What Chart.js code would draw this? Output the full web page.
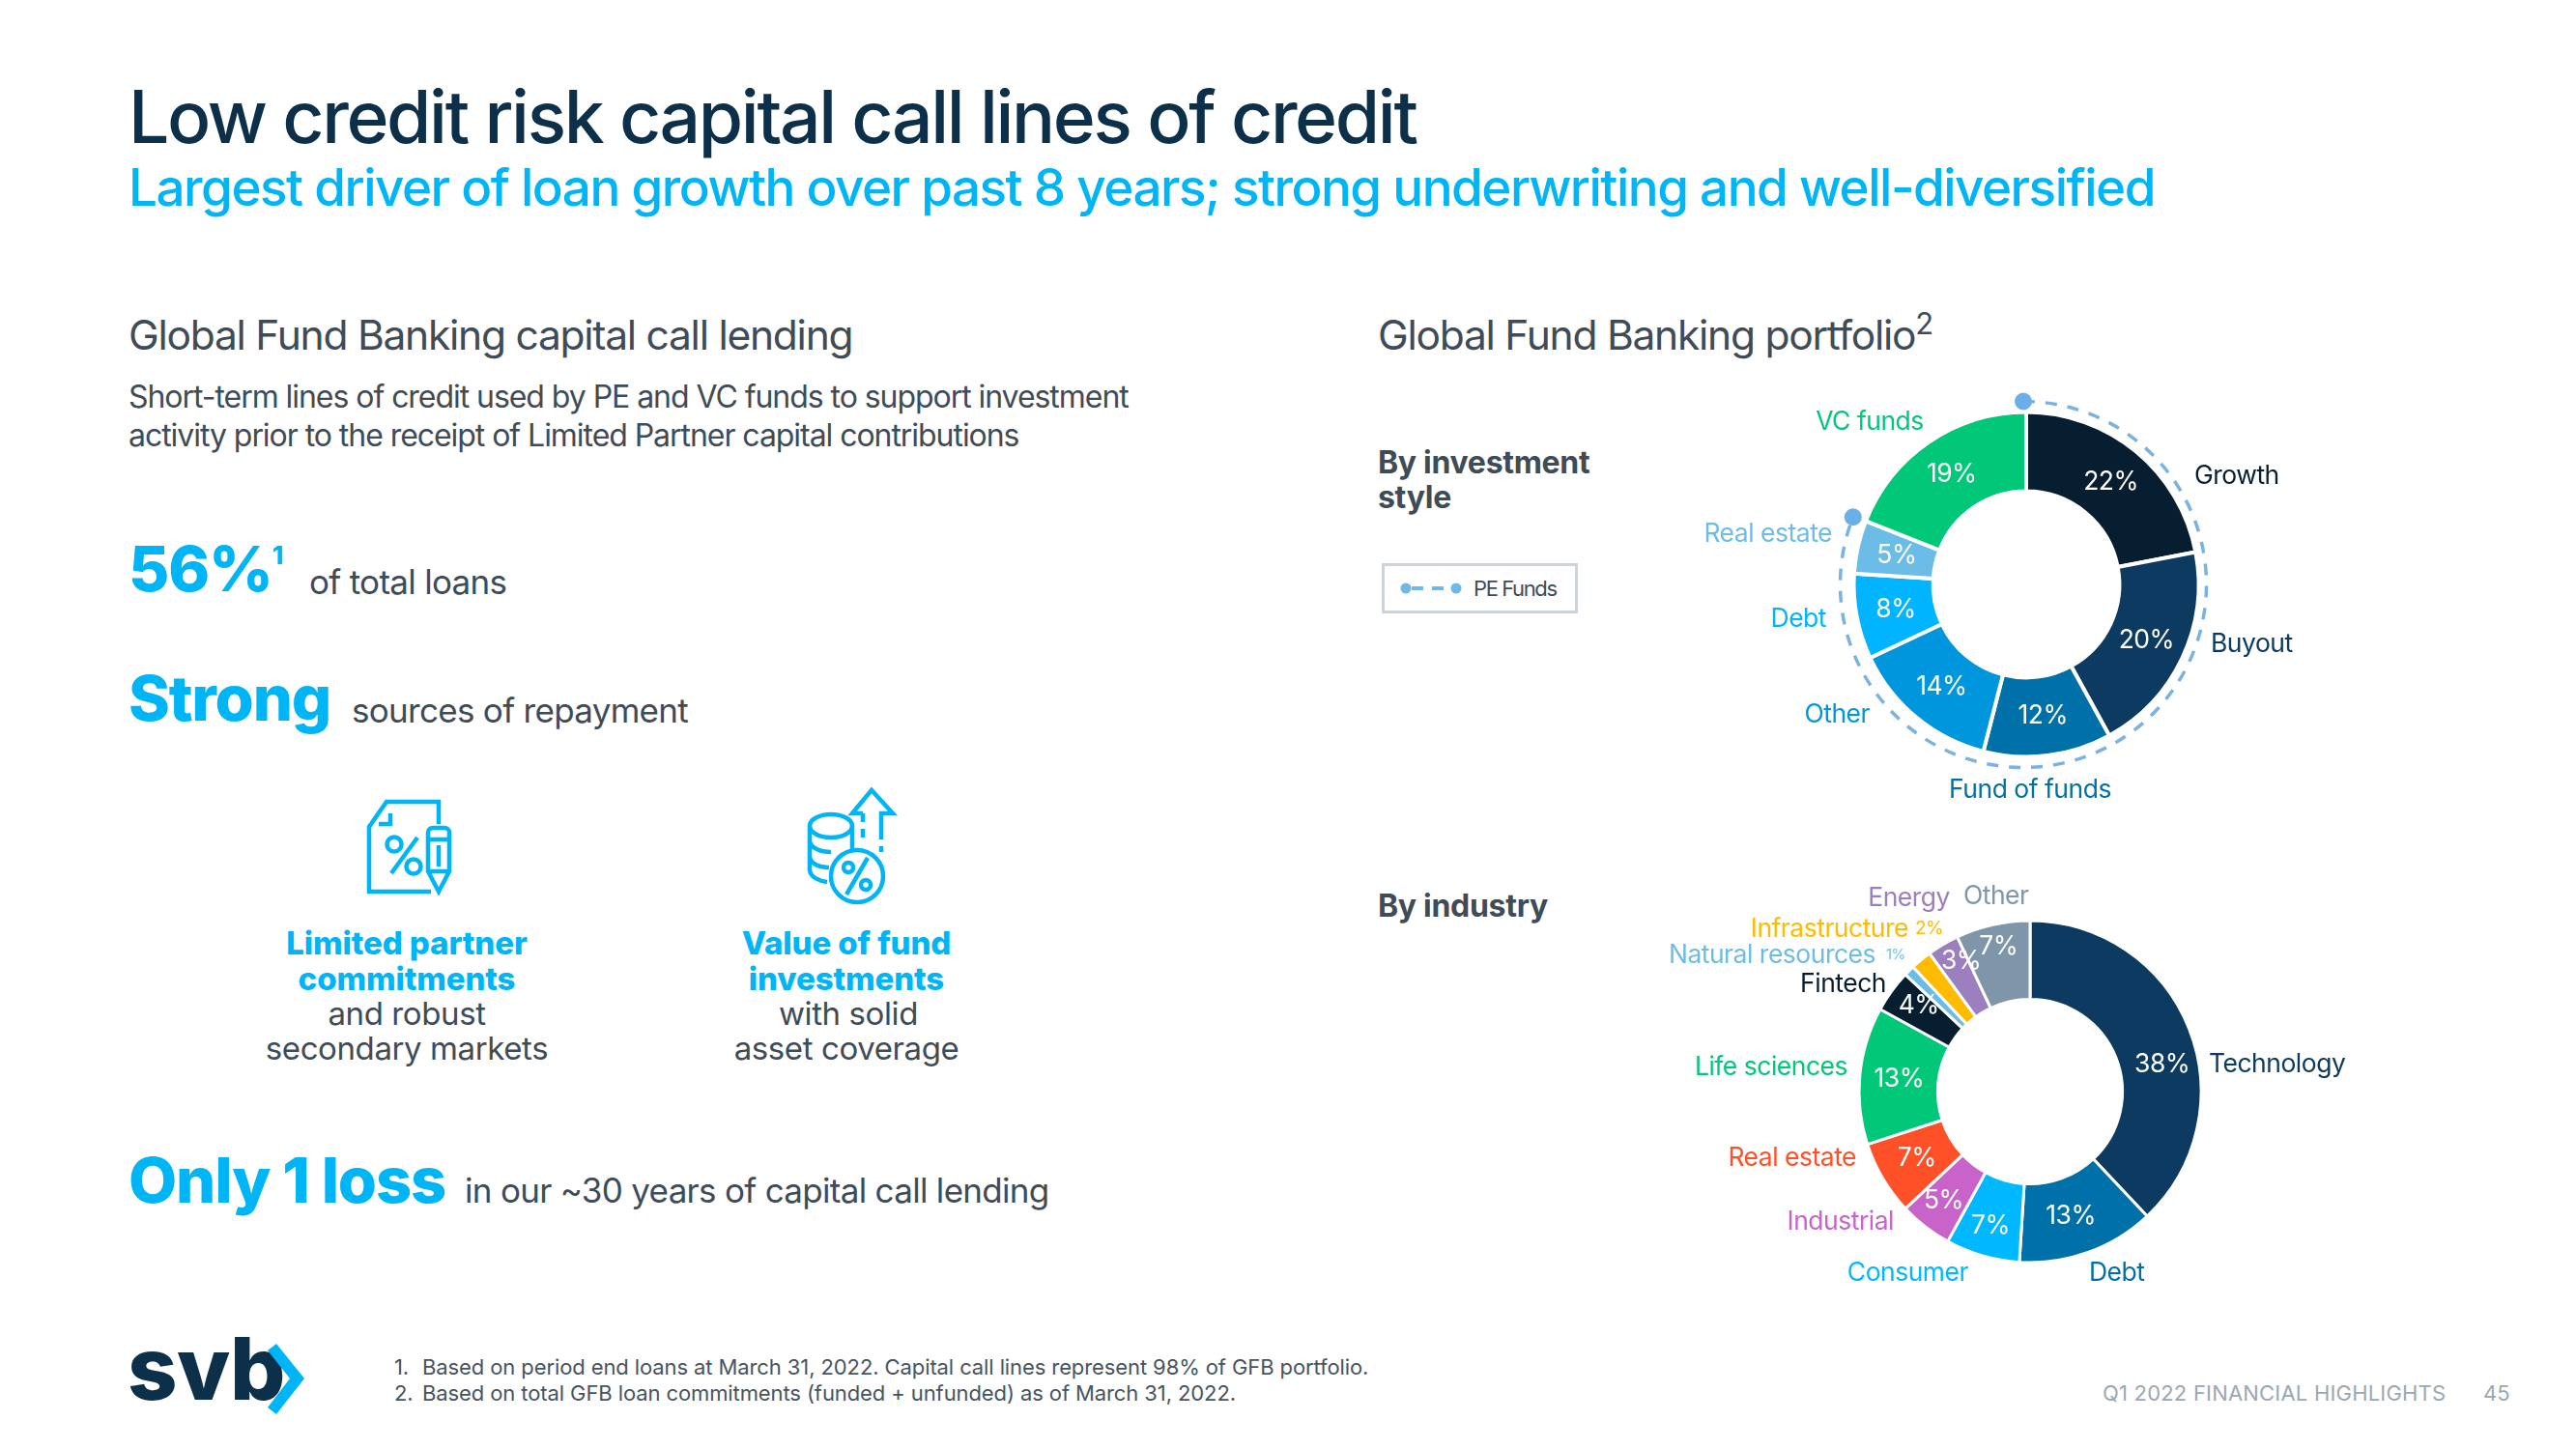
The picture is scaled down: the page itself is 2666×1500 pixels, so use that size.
<!DOCTYPE html>
<html>
<head>
<meta charset="utf-8">
<script src="https://cdn.jsdelivr.net/npm/chart.js@4/dist/chart.umd.min.js"></script>
<style>
html,body{margin:0;padding:0;background:#fff;}
#page{position:relative;width:2666px;height:1500px;overflow:hidden;font-family:Inter,sans-serif;color:#3f4c57;}
.t{position:absolute;white-space:nowrap;transform:translateY(-50%);line-height:1;}
.r{transform:translate(-100%,-50%);}
.c{transform:translate(-50%,-50%);}
.big{font-weight:800;color:#00b5f5;font-size:65px;letter-spacing:-1.2px;}
.sub{font-size:35px;letter-spacing:-.7px;}
.head{font-size:42.5px;letter-spacing:-1.25px;}
.body{font-size:32px;letter-spacing:-1.05px;}
.bold{font-weight:700;font-size:32px;letter-spacing:-.3px;color:#3f4c57;}
.col{font-size:33px;letter-spacing:-.4px;}
.colb{font-weight:800;color:#00b5f5;letter-spacing:-.1px;}
.foot{font-size:22px;letter-spacing:-.1px;color:#47545f;}
.lab{font-size:26.5px;letter-spacing:-.5px;}
canvas{position:absolute;}
svg{position:absolute;}
</style>
</head>
<body>
<div id="page">
  <div class="t" style="left:133px;top:120px;font-size:75px;font-weight:500;letter-spacing:-2.35px;color:#0c2f4a;">Low credit risk capital call lines of credit</div>
  <div class="t" style="left:133px;top:194px;font-size:53px;font-weight:500;letter-spacing:-1.5px;color:#00b5f5;">Largest driver of loan growth over past 8 years; strong underwriting and well-diversified</div>

  <div class="t head" style="left:133px;top:347px;">Global Fund Banking capital call lending</div>
  <div class="t body" style="left:133px;top:411px;">Short-term lines of credit used by PE and VC funds to support investment</div>
  <div class="t body" style="left:133px;top:451px;">activity prior to the receipt of Limited Partner capital contributions</div>

  <div class="t big" style="left:133px;top:588px;">56%<sup style="font-size:26px;vertical-align:28px;line-height:0;">1</sup></div>
  <div class="t sub" style="left:320px;top:602px;">of total loans</div>
  <div class="t big" style="left:133px;top:722px;">Strong</div>
  <div class="t sub" style="left:364px;top:735px;">sources of repayment</div>

  <svg style="left:376px;top:826px;" width="100" height="102" viewBox="0 0 100 102" fill="none" stroke="#00b5f5" stroke-width="4.5">
    <path d="M78 27V4H24L6 30V97H70"/>
    <path d="M28 16V27H16"/>
    <circle cx="32" cy="48" r="7.5"/><circle cx="52" cy="71" r="7.5"/><path d="M56 41L29 78"/>
    <path d="M72 31h12a5 5 0 0 1 5 5v40L78 97L67 76V36a5 5 0 0 1 5-5zM67 43h22M67 76h22M78 49v22"/>
  </svg>
  <svg style="left:830px;top:810px;" width="100" height="130" viewBox="0 0 100 130" fill="none" stroke="#00b5f5" stroke-width="4.5">
    <path d="M63 32H52L72 8L94 32H82V50"/>
    <path d="M63 32V64M82 50V72" stroke-dasharray="9 7"/>
    <ellipse cx="30" cy="45" rx="22" ry="12"/>
    <path d="M8 45V90c0 8 10 12 18 13M52 45V70M8 60c0 8 12 12 22 12M8 76c0 8 10 12 20 12"/>
    <circle cx="57" cy="97" r="27"/>
    <circle cx="48" cy="88" r="5"/><circle cx="66" cy="106" r="5"/><path d="M68 78L46 116"/>
  </svg>

  <div class="t col colb c" style="left:421px;top:976px;">Limited partner</div>
  <div class="t col colb c" style="left:421px;top:1013px;">commitments</div>
  <div class="t col c" style="left:421px;top:1049px;">and robust</div>
  <div class="t col c" style="left:421px;top:1085px;">secondary markets</div>
  <div class="t col colb c" style="left:876px;top:976px;">Value of fund</div>
  <div class="t col colb c" style="left:876px;top:1013px;">investments</div>
  <div class="t col c" style="left:878px;top:1049px;">with solid</div>
  <div class="t col c" style="left:876px;top:1085px;">asset coverage</div>

  <div class="t big" style="left:133px;top:1221px;">Only 1 loss</div>
  <div class="t sub" style="left:481px;top:1232px;">in our ~30 years of capital call lending</div>

  <div class="t" style="left:132px;top:1417px;font-size:90px;font-weight:800;letter-spacing:-.5px;color:#0c2f4a;">svb</div>
  <svg style="left:277px;top:1390px;" width="41" height="75" viewBox="0 0 41 75"><path d="M0 8L9 1L38 37L9 74L0 67L23 37Z" fill="#00b5f5"/></svg>

  <div class="t foot" style="left:408px;top:1415px;">1.</div>
  <div class="t foot" style="left:437px;top:1415px;">Based on period end loans at March 31, 2022. Capital call lines represent 98% of GFB portfolio.</div>
  <div class="t foot" style="left:408px;top:1442px;">2.</div>
  <div class="t foot" style="left:437px;top:1442px;">Based on total GFB loan commitments (funded + unfunded) as of March 31, 2022.</div>
  <div class="t" style="left:2176px;top:1442px;font-size:22px;color:#9ba7b1;letter-spacing:.2px;">Q1 2022 FINANCIAL HIGHLIGHTS</div>
  <div class="t" style="left:2570px;top:1442px;font-size:22px;color:#9ba7b1;">45</div>

  <div class="t head" style="left:1426px;top:347px;">Global Fund Banking portfolio<sup style="font-size:31px;vertical-align:16px;line-height:0;">2</sup></div>
  <div class="t bold" style="left:1426px;top:479px;">By investment</div>
  <div class="t bold" style="left:1426px;top:515px;">style</div>
  <div style="position:absolute;left:1430px;top:583px;width:197px;height:46px;border:3px solid #ccd3da;"></div>
  <svg style="left:1447px;top:597px;" width="70" height="24"><path d="M6 12H64" stroke="#6fb9e8" stroke-width="4" stroke-dasharray="12 9" stroke-dashoffset="-8"/><circle cx="8" cy="12" r="5.5" fill="#6fb9e8"/><circle cx="60" cy="12" r="5.5" fill="#6fb9e8"/></svg>
  <div class="t" style="left:1525px;top:609px;font-size:22px;letter-spacing:-1.4px;">PE Funds</div>
  <div class="t bold" style="left:1426px;top:938px;">By industry</div>

  <canvas id="styleChart" width="440" height="440" style="left:1877px;top:385px;width:440px;height:440px;"></canvas>
  <canvas id="industryChart" width="440" height="440" style="left:1881px;top:910px;width:440px;height:440px;"></canvas>
</div>
<script>
// by investment style
var styleLabels = ['Growth','Buyout','Fund of funds','Other','Debt','Real estate','VC funds'];
var styleValues = [22,20,12,14,8,5,19];
var styleColors = ['#071e31','#0c3a60','#0070a8','#0096de','#00b4ff','#6bbde8','#00c878'];
var peFunds = ['Growth','Buyout','Fund of funds','Other','Debt','Real estate'];

// by industry
var industryLabels = ['Technology','Debt','Consumer','Industrial','Real estate','Life sciences','Fintech','Natural resources','Infrastructure','Energy','Other'];
var industryValues = [38,13,7,5,7,13,4,1,2,3,7];
var industryColors = ['#0c3a60','#0070a8','#00b8ff','#c763c9','#ff5028','#00c878','#071e31','#6bbde8','#ffbb00','#9b7fbf','#7f96aa'];

// label places on the page: [x, y, align]
var styleLabelPos = [[2271,491,'l'],[2288,665,'l'],[2101,816,'c'],[1935,738,'r'],[1890,639,'r'],[1896,551,'r'],[1935,435,'c']];
var industryLabelPos = [[2286,1100,'l'],[2162,1316,'l'],[2037,1316,'r'],[1960,1263,'r'],[1921,1197,'r'],[1912,1103,'r'],[1952,1017,'r'],[1941,987,'r'],[1975,960,'r'],[2018,928,'r'],[2032,926,'l']];
var industryNudge = {0:[10,22],1:[-4,1],2:[-3,8],3:[-6,5],6:[-5,-9],9:[-2,-18],10:[-3,-17]};

var page = document.getElementById('page');
function addLabels(names, pos, colors) {
    names.forEach(function(name, i) {
        var d = document.createElement('div');
        d.className = 't lab' + (pos[i][2] === 'r' ? ' r' : pos[i][2] === 'c' ? ' c' : '');
        d.style.left = pos[i][0] + 'px';
        d.style.top = pos[i][1] + 'px';
        d.style.color = colors[i];
        d.textContent = name;
        page.appendChild(d);
    });
}
addLabels(styleLabels, styleLabelPos, styleColors);
addLabels(industryLabels, industryLabelPos, industryColors);

// the two slices too thin for a label inside
function addSmall(text, x, y, size, color) {
    var s = document.createElement('div');
    s.className = 't';
    s.style.cssText = 'left:' + x + 'px;top:' + y + 'px;font-size:' + size + 'px;letter-spacing:-.5px;color:' + color + ';';
    s.textContent = text;
    page.appendChild(s);
}
addSmall(industryValues[8] + '%', 1982, 960, 19, industryColors[8]);
addSmall(industryValues[7] + '%', 1952, 987, 15, industryColors[7]);

var percentLabels = {
    id: 'percentLabels',
    afterDatasetsDraw: function(chart, args, opts) {
        var ctx = chart.ctx;
        var vals = chart.data.datasets[0].data;
        chart.getDatasetMeta(0).data.forEach(function(arc, i) {
            if (vals[i] < 3) return;
            var p = arc.getCenterPoint();
            var n = (opts.nudge && opts.nudge[i]) || [0,0];
            ctx.save();
            ctx.font = '26.5px Inter';
            ctx.letterSpacing = '-0.5px';
            ctx.fillStyle = '#fff';
            ctx.textAlign = 'center';
            ctx.textBaseline = 'middle';
            ctx.fillText(vals[i] + '%', p.x + n[0], p.y + n[1]);
            ctx.restore();
        });
    }
};

// dashed ring round the PE fund slices, sits a little left of the donut centre
var peRing = {
    id: 'peRing',
    afterDatasetsDraw: function(chart) {
        var ctx = chart.ctx;
        var arc = chart.getDatasetMeta(0).data[peFunds.length - 1];
        var start = chart.getDatasetMeta(0).data[0].startAngle;
        var end = arc.endAngle;
        var r = arc.outerRadius + 11;
        var cx = arc.x - 3;
        ctx.save();
        ctx.strokeStyle = '#7ab2e4';
        ctx.lineWidth = 3.5;
        ctx.setLineDash([12,11]);
        ctx.beginPath();
        ctx.arc(cx, arc.y, r, start, end);
        ctx.stroke();
        ctx.setLineDash([]);
        ctx.fillStyle = '#6aaeea';
        [start, end].forEach(function(a) {
            ctx.beginPath();
            ctx.arc(cx + r * Math.cos(a), arc.y + r * Math.sin(a), 9, 0, Math.PI * 2);
            ctx.fill();
        });
        ctx.restore();
    }
};

function donut(id, labels, values, colors, radius, nudge, border, plugins) {
    return new Chart(document.getElementById(id).getContext('2d'), {
        type: 'doughnut',
        data: {
            labels: labels,
            datasets: [{ data: values, backgroundColor: colors, borderColor: '#fff', borderWidth: border, borderAlign: 'center' }]
        },
        options: {
            responsive: false,
            animation: false,
            devicePixelRatio: 1,
            radius: radius,
            cutout: '54%',
            layout: { padding: 0 },
            plugins: { legend: { display: false }, tooltip: { enabled: false }, percentLabels: { nudge: nudge } }
        },
        plugins: plugins
    });
}

donut('styleChart', styleLabels, styleValues, styleColors, 178.5, null, 4, [percentLabels, peRing]);
donut('industryChart', industryLabels, industryValues, industryColors, 177, industryNudge, 3, [percentLabels]);
</script>
</body>
</html>
